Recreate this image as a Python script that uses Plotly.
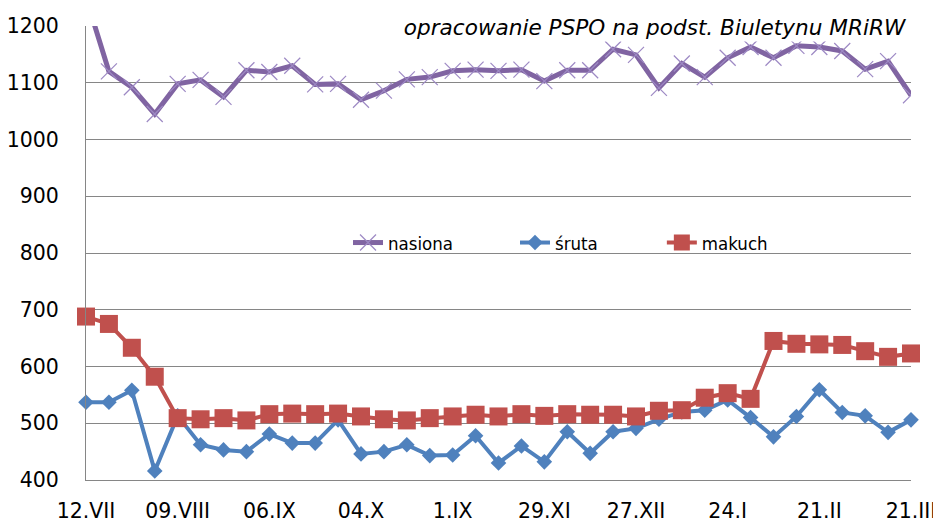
import plotly.graph_objects as go

categories = ["12.VII", "19.VII", "26.VII", "02.VIII", "09.VIII", "16.VIII", "23.VIII", "30.VIII",
              "06.IX", "13.IX", "20.IX", "27.IX", "04.X", "11.X", "18.X", "25.X",
              "01.XI", "08.XI", "15.XI", "22.XI", "29.XI", "06.XII", "13.XII", "20.XII",
              "27.XII", "03.I", "10.I", "17.I", "24.I", "31.I", "07.II", "14.II",
              "21.II", "28.II", "07.III", "14.III", "21.III"]
tick_labels = ["12.VII", "09.VIII", "06.IX", "04.X", "1.IX", "29.XI", "27.XII", "24.I", "21.II", "21.III"]
tick_positions = categories[::4]

nasiona = [1250, 1120, 1092, 1045, 1098, 1105, 1075, 1122, 1119, 1130, 1097, 1098, 1070, 1086, 1106, 1110,
           1121, 1123, 1121, 1123, 1103, 1122, 1122, 1159, 1149, 1091, 1134, 1110, 1144, 1163, 1144, 1165,
           1163, 1156, 1124, 1138, 1078]
sruta = [537, 537, 558, 416, 513, 462, 453, 450, 481, 465, 465, 506, 446, 450, 462, 443,
         444, 478, 430, 460, 432, 485, 447, 485, 491, 507, 520, 523, 541, 510, 476, 512,
         559, 519, 513, 484, 506]
makuch = [688, 675, 633, 582, 509, 507, 509, 505, 516, 517, 516, 517, 512, 507, 505, 509,
          512, 515, 512, 516, 513, 516, 515, 515, 512, 522, 523, 545, 553, 543, 645, 640,
          639, 638, 627, 617, 623]

PURPLE = "#8064A2"
BLUE = "#4F81BD"
RED = "#C0504D"
GRID = "#868686"
FONT = "DejaVu Sans"
LEGFONT = "DejaVu Sans Condensed, DejaVu Sans"

fig = go.Figure()
fig.add_trace(go.Scatter(
    x=categories, y=nasiona, name="nasiona", mode="lines+markers",
    line=dict(color=PURPLE, width=5),
    marker=dict(symbol="x-thin", size=16, line=dict(color="#9d89c4", width=1.2)),
    cliponaxis=True, legend="legend"))
fig.add_trace(go.Scatter(
    x=categories, y=sruta, name="śruta", mode="lines+markers",
    line=dict(color=BLUE, width=4),
    marker=dict(symbol="diamond", size=12, color=BLUE),
    cliponaxis=False, legend="legend2"))
fig.add_trace(go.Scatter(
    x=categories, y=makuch, name="makuch", mode="lines+markers",
    line=dict(color=RED, width=4),
    marker=dict(symbol="square", size=18, color=RED),
    cliponaxis=False, legend="legend3"))

leg_common = dict(orientation="h", xanchor="left", yanchor="middle", y=0.522,
                  bgcolor="rgba(0,0,0,0)", font=dict(family=LEGFONT, size=18.5, color="#000"))
fig.update_layout(
    width=933, height=526,
    margin=dict(l=86, r=22, t=26, b=46, autoexpand=False),
    paper_bgcolor="white", plot_bgcolor="white",
    font=dict(family=FONT, color="#000"),
    legend=dict(x=0.3176, **leg_common),
    legend2=dict(x=0.5200, **leg_common),
    legend3=dict(x=0.6980, **leg_common),
    xaxis=dict(type="category", categoryorder="array", categoryarray=categories,
               range=[0, len(categories) - 1], automargin=False,
               tickmode="array", tickvals=tick_positions, ticktext=tick_labels,
               showgrid=False, showline=True, linecolor=GRID, linewidth=1,
               ticks="", ticklabelstandoff=12,
               tickfont=dict(family=FONT, size=20.5, color="#000")),
    yaxis=dict(range=[400, 1200], dtick=100, tick0=400, automargin=False,
               showgrid=True, gridcolor=GRID, gridwidth=1,
               showline=True, linecolor=GRID, linewidth=1,
               ticks="", ticklabelstandoff=22, zeroline=False,
               tickfont=dict(family=FONT, size=20.5, color="#000")),
    showlegend=True,
)
# white legend box hiding the gridline behind it
fig.add_shape(type="rect", xref="x domain", yref="y domain",
              x0=0.241, x1=1.0, y0=0.485, y1=0.56,
              fillcolor="white", line=dict(width=0), layer="below")
fig.add_annotation(text="<i>opracowanie PSPO na podst. Biuletynu MRiRW</i>",
                   xref="paper", yref="paper", x=0.998, y=0.996,
                   xanchor="right", yanchor="middle", showarrow=False,
                   width=530, align="right", bgcolor="white", borderpad=1,
                   font=dict(family=FONT, size=21.6, color="#000"))
fig.write_html("out.html", config={"displayModeBar": False},
               post_script="document.body.style.margin='0px';")
